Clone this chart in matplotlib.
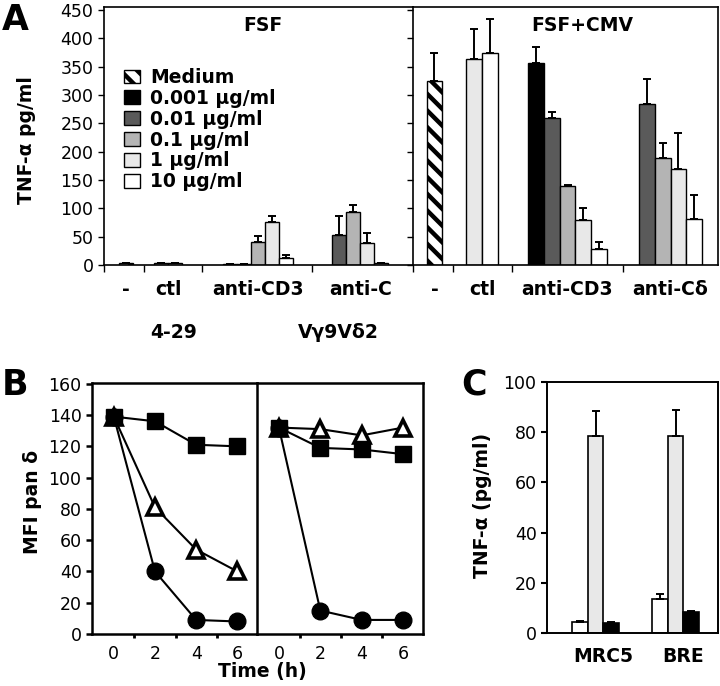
'''
Three panel figure: TNF-alpha release (A), pan delta MFI over time (B)
and TNF-alpha for two cell lines (C)
'''
import numpy as np
import matplotlib
matplotlib.use('Agg')
import matplotlib.pyplot as plt
from matplotlib.patches import Patch

plt.rcParams['font.family'] = ['DejaVu Sans']
plt.rcParams['hatch.linewidth'] = 3.2

nan = np.nan

# ---- panel A data (rows = groups, columns = series, nan = no bar) ----
seriesLabels = ['Medium', '0.001 μg/ml', '0.01 μg/ml', '0.1 μg/ml', '1 μg/ml', '10 μg/ml']
fsfGroups = ['-', 'ctl', 'anti-CD3', 'anti-C']
cmvGroups = ['-', 'ctl', 'anti-CD3', 'anti-Cδ']

fsfMean = [[3, nan, nan, nan, nan, nan],
           [nan, nan, nan, nan, 3, 3],
           [nan, 2, 2, 41, 75, 13],
           [nan, nan, 53, 93, 38, 3]]
fsfErr = [[1, nan, nan, nan, nan, nan],
          [nan, nan, nan, nan, 1, 1],
          [nan, 0.5, 0.5, 10, 12, 4],
          [nan, nan, 34, 13, 19, 1]]

cmvMean = [[325, nan, nan, nan, nan, nan],
           [nan, nan, nan, nan, 363, 374],
           [nan, 356, 259, 139, 79, 29],
           [nan, nan, 284, 188, 169, 82]]
cmvErr = [[49, nan, nan, nan, nan, nan],
          [nan, nan, nan, nan, 53, 60],
          [nan, 28, 10, 2, 22, 12],
          [nan, nan, 44, 27, 63, 42]]

# ---- panel B data ----
times = [0, 2, 4, 6]
clone429Square = [139, 136, 121, 120]
clone429Triangle = [139, 81, 54, 40]
clone429Circle = [139, 40, 9, 8]
vg9Square = [132, 119, 118, 115]
vg9Triangle = [132, 131, 127, 132]
vg9Circle = [132, 15, 9, 9]

# ---- panel C data ----
cGroups = ['MRC5', 'BRE']
cWhite = [4.4, 13.5]
cWhiteErr = [0.5, 2.0]
cDotted = [78.6, 78.6]
cDottedErr = [10.0, 10.4]
cBlack = [3.8, 8.5]
cBlackErr = [0.4, 0.4]

# bar styles for the six series
faceColors = ['white', 'black', '#5a5a5a', '#b4b4b4', '#e8e8e8', 'white']
hatches = ['\\\\', '', '', '', '', '']

TICKSIZE = 12.5
LABELSIZE = 13.5
LETTERSIZE = 25


def drawBars(ax, centers, means, errs):
    '''
    Draws the present bars of each group side by side around the group center
    '''
    for center, rowMean, rowErr in zip(centers, means, errs):
        idx = [i for i, v in enumerate(rowMean) if not np.isnan(v)]
        xs = center + np.arange(len(idx)) - (len(idx) - 1) / 2
        for x, i in zip(xs, idx):
            ax.bar(x, rowMean[i], width=1, color=faceColors[i], edgecolor='k',
                   linewidth=1, hatch=hatches[i], zorder=2)
            ax.errorbar(x, rowMean[i], yerr=[[0], [rowErr[i]]], fmt='none',
                        ecolor='k', elinewidth=1.4, capsize=3.2, capthick=1.4, zorder=3)


def styleBarAxis(ax, centers, labels, seps, xmax, ymax):
    ax.set_xlim(0, xmax)
    ax.set_ylim(0, ymax)
    ax.set_xticks(centers)
    ax.set_xticklabels(labels, fontsize=LABELSIZE, fontweight='bold')
    ax.set_xticks(seps, minor=True)
    ax.tick_params(axis='x', which='major', length=0, pad=11)
    ax.tick_params(axis='x', which='minor', length=5, width=1, direction='out')
    ax.tick_params(axis='y', length=4, width=1, direction='out', labelsize=TICKSIZE)
    for s in ax.spines.values():
        s.set_linewidth(1.2)


def main():
    fig = plt.figure(figsize=(7.2, 6.86), dpi=100)

    # ---------------- panel A ----------------
    axL = fig.add_axes([0.1444, 0.6137, 0.4292, 0.3761])
    axR = fig.add_axes([0.5736, 0.6137, 0.4236, 0.3761])

    leftCenters = [1.6, 4.6, 11.0, 18.3]
    rightCenters = [1.36, 4.37, 9.78, 16.3]
    drawBars(axL, leftCenters, fsfMean, fsfErr)
    drawBars(axR, rightCenters, cmvMean, cmvErr)

    styleBarAxis(axL, leftCenters, fsfGroups, [0, 2.86, 7.0, 14.86], 22.07, 455)
    styleBarAxis(axR, rightCenters, cmvGroups, [0, 2.53, 6.27, 13.3], 19.3, 455)
    axL.set_yticks(np.arange(0, 451, 50))
    axR.set_yticks(np.arange(0, 451, 50))
    axR.set_yticklabels([])
    axL.spines['right'].set_visible(False)

    axL.text(0.515, 0.93, 'FSF', transform=axL.transAxes, ha='center', va='center',
             fontsize=LABELSIZE, fontweight='bold')
    axR.text(0.556, 0.93, 'FSF+CMV', transform=axR.transAxes, ha='center', va='center',
             fontsize=LABELSIZE, fontweight='bold')

    handles = [Patch(facecolor=fc, edgecolor='k', hatch=h, label=l)
               for fc, h, l in zip(faceColors, hatches, seriesLabels)]
    axL.legend(handles=handles, loc='upper left', bbox_to_anchor=(0.035, 0.80),
               frameon=False, prop=dict(weight='bold', size=LABELSIZE), borderpad=0,
               handlelength=0.85, handleheight=0.75, handletextpad=0.55, labelspacing=0.1)

    fig.text(27 / 720, 1 - 140 / 686, 'TNF-α pg/ml', rotation=90, ha='center', va='center',
             fontsize=LABELSIZE, fontweight='bold')
    fig.text(2 / 720, 1 - 20 / 686, 'A', ha='left', va='center', fontsize=LETTERSIZE,
             fontweight='bold')

    # ---------------- panel B ----------------
    bL = fig.add_axes([0.1278, 0.0758, 0.2292, 0.3659])
    bR = fig.add_axes([0.3569, 0.0758, 0.2306, 0.3659])
    lineKw = dict(color='k', linewidth=1.5, zorder=2)
    for ax, sq, tri, circ in [(bL, clone429Square, clone429Triangle, clone429Circle),
                              (bR, vg9Square, vg9Triangle, vg9Circle)]:
        ax.plot(times, circ, marker='o', markersize=12, markerfacecolor='k',
                markeredgecolor='k', **lineKw)
        ax.plot(times, tri, marker='^', markersize=12, markerfacecolor='white',
                markeredgecolor='k', markeredgewidth=2.6, **lineKw)
        ax.plot(times, sq, marker='s', markersize=11, markerfacecolor='k',
                markeredgecolor='k', **lineKw)
        ax.set_xlim(-1.06, 6.96)
        ax.set_ylim(0, 160.5)
        ax.set_xticks(times)
        ax.set_xticks([1, 3, 5], minor=True)
        ax.tick_params(axis='x', which='major', length=0, pad=8, labelsize=TICKSIZE)
        ax.tick_params(axis='x', which='minor', length=3, width=2, direction='out')
        for s in ax.spines.values():
            s.set_linewidth(1.8)
    bL.set_yticks(np.arange(0, 161, 20))
    bL.tick_params(axis='y', length=4, width=1.8, direction='out', labelsize=TICKSIZE)
    bR.set_yticks([])
    bL.spines['right'].set_visible(False)

    fig.text(174 / 720, 1 - 332 / 686, '4-29', ha='center', va='center',
             fontsize=LABELSIZE, fontweight='bold')
    fig.text(338 / 720, 1 - 332 / 686, 'Vγ9Vδ2', ha='center', va='center',
             fontsize=LABELSIZE, fontweight='bold')
    fig.text(262 / 720, 1 - 671 / 686, 'Time (h)', ha='center', va='center',
             fontsize=LABELSIZE, fontweight='bold')
    fig.text(32 / 720, 1 - 502 / 686, 'MFI pan δ', rotation=90, ha='center', va='center',
             fontsize=LABELSIZE, fontweight='bold')
    fig.text(2 / 720, 1 - 385 / 686, 'B', ha='left', va='center', fontsize=LETTERSIZE,
             fontweight='bold')

    # ---------------- panel C ----------------
    cx = fig.add_axes([0.7597, 0.0773, 0.2375, 0.3659])
    cCenters = [3.13, 8.3]
    # three bars per cell line: white, dotted, black
    for center, w, we, d, de, b, be in zip(cCenters, cWhite, cWhiteErr, cDotted,
                                          cDottedErr, cBlack, cBlackErr):
        for off, val, err, fc in [(-1, w, we, 'white'), (0, d, de, '#e8e8e8'),
                                  (1, b, be, 'black')]:
            cx.bar(center + off, val, width=1, color=fc, edgecolor='k', linewidth=1.2, zorder=2)
            cx.errorbar(center + off, val, yerr=[[0], [err]], fmt='none', ecolor='k',
                        elinewidth=1.4, capsize=3.2, capthick=1.4, zorder=3)
    cx.set_xlim(0, 11.03)
    cx.set_ylim(0, 100)
    cx.set_yticks(np.arange(0, 101, 20))
    cx.set_xticks([c + 0.5 for c in cCenters])
    cx.set_xticklabels(cGroups, fontsize=LABELSIZE, fontweight='bold')
    cx.tick_params(axis='x', length=0, pad=10)
    cx.tick_params(axis='y', length=4, width=1.5, direction='out', labelsize=TICKSIZE)
    for s in cx.spines.values():
        s.set_linewidth(1.4)
    fig.text(483 / 720, 1 - 505 / 686, 'TNF-α (pg/ml)', rotation=90, ha='center',
             va='center', fontsize=LABELSIZE, fontweight='bold')
    fig.text(461 / 720, 1 - 385 / 686, 'C', ha='left', va='center', fontsize=LETTERSIZE,
             fontweight='bold')

    fig.savefig('out.png', dpi=100)


if __name__ == '__main__':
    main()
